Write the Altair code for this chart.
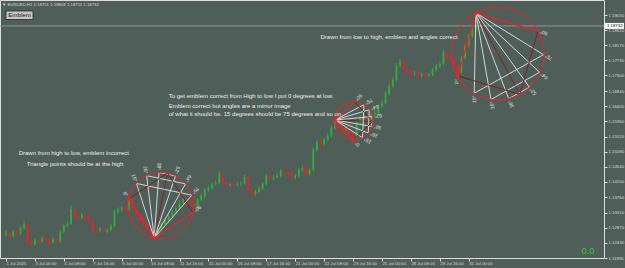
import math, json
import altair as alt
import pandas as pd

# ---------------- data ----------------
first_open = 1.1268
closes = [1.1272, 1.1263, 1.1275, 1.1269, 1.1286, 1.1298, 1.1246, 1.1240, 1.1251, 1.1246,
          1.1257, 1.1248, 1.1243, 1.1254, 1.1246, 1.1275, 1.1292, 1.1298, 1.1339, 1.1321,
          1.1315, 1.1324, 1.1312, 1.1307, 1.1280, 1.1278, 1.1283, 1.1275, 1.1280, 1.1292,
          1.1333, 1.1339, 1.1344, 1.1339, 1.1368, 1.1344, 1.1324, 1.1312, 1.1298, 1.1283,
          1.1272, 1.1263, 1.1286, 1.1298, 1.1309, 1.1321, 1.1333, 1.1344, 1.1359, 1.1371,
          1.1362, 1.1353, 1.1347, 1.1368, 1.1379, 1.1397, 1.1402, 1.1414, 1.1417, 1.1443,
          1.1420, 1.1411, 1.1414, 1.1411, 1.1414, 1.1416, 1.1434, 1.1397, 1.1385, 1.1391,
          1.1402, 1.1414, 1.1437, 1.1431, 1.1434, 1.1437, 1.1452, 1.1449, 1.1446, 1.1431,
          1.1437, 1.1455, 1.1461, 1.1443, 1.1455, 1.1513, 1.1536, 1.1530, 1.1542, 1.1554,
          1.1577, 1.1594, 1.1583, 1.1571, 1.1574, 1.1562, 1.1551, 1.1594, 1.1606, 1.1612,
          1.1606, 1.1617, 1.1620, 1.1641, 1.1649, 1.1676, 1.1699, 1.1716, 1.1757, 1.1769,
          1.1751, 1.1739, 1.1734, 1.1737, 1.1728, 1.1734, 1.1728, 1.1731, 1.1745, 1.1757,
          1.1763, 1.1795, 1.1780, 1.1774, 1.1757, 1.1739, 1.1780, 1.1815, 1.1844, 1.1861,
          1.18732]
highs = [1.1280, 1.1277, 1.1281, 1.1279, 1.1291, 1.1306, 1.1301, 1.1252, 1.1257, 1.1256,
         1.1262, 1.1261, 1.1253, 1.1259, 1.1258, 1.1280, 1.1298, 1.1305, 1.1352, 1.1344,
         1.1327, 1.1330, 1.1328, 1.1318, 1.1311, 1.1287, 1.1290, 1.1288, 1.1286, 1.1298,
         1.1340, 1.1346, 1.1350, 1.1349, 1.1371, 1.1370, 1.1348, 1.1329, 1.1316, 1.1302,
         1.1288, 1.1276, 1.1290, 1.1303, 1.1315, 1.1326, 1.1338, 1.1350, 1.1366, 1.1378,
         1.1375, 1.1367, 1.1358, 1.1373, 1.1386, 1.1403, 1.1409, 1.1420, 1.1425, 1.1452,
         1.1447, 1.1424, 1.1420, 1.1418, 1.1421, 1.1422, 1.1441, 1.1438, 1.1401, 1.1397,
         1.1407, 1.1419, 1.1443, 1.1442, 1.1440, 1.1445, 1.1458, 1.1456, 1.1454, 1.1450,
         1.1443, 1.1461, 1.1468, 1.1465, 1.1460, 1.1520, 1.1543, 1.1541, 1.1548, 1.1562,
         1.1584, 1.1600, 1.1598, 1.1587, 1.1580, 1.1578, 1.1566, 1.1599, 1.1612, 1.1619,
         1.1617, 1.1624, 1.1628, 1.1647, 1.1657, 1.1683, 1.1706, 1.1724, 1.1765, 1.1777,
         1.1773, 1.1755, 1.1744, 1.1743, 1.1741, 1.1739, 1.1738, 1.1737, 1.1751, 1.1763,
         1.1770, 1.1803, 1.1799, 1.1786, 1.1778, 1.1761, 1.1786, 1.1822, 1.1851, 1.1872,
         1.1911]
lows = [1.1262, 1.1258, 1.1260, 1.1264, 1.1266, 1.1282, 1.1240, 1.1233, 1.1236, 1.1240,
        1.1243, 1.1244, 1.1237, 1.1240, 1.1241, 1.1243, 1.1271, 1.1287, 1.1295, 1.1316,
        1.1309, 1.1311, 1.1307, 1.1300, 1.1274, 1.1271, 1.1273, 1.1270, 1.1271, 1.1277,
        1.1289, 1.1328, 1.1333, 1.1334, 1.1335, 1.1340, 1.1319, 1.1307, 1.1293, 1.1279,
        1.1266, 1.1257, 1.1260, 1.1282, 1.1294, 1.1305, 1.1316, 1.1328, 1.1340, 1.1354,
        1.1357, 1.1348, 1.1341, 1.1343, 1.1364, 1.1375, 1.1392, 1.1398, 1.1409, 1.1413,
        1.1415, 1.1406, 1.1406, 1.1405, 1.1407, 1.1409, 1.1412, 1.1392, 1.1379, 1.1380,
        1.1387, 1.1398, 1.1410, 1.1426, 1.1426, 1.1430, 1.1433, 1.1443, 1.1440, 1.1425,
        1.1427, 1.1432, 1.1450, 1.1438, 1.1439, 1.1451, 1.1508, 1.1524, 1.1525, 1.1537,
        1.1550, 1.1572, 1.1578, 1.1566, 1.1566, 1.1557, 1.1542, 1.1547, 1.1589, 1.1601,
        1.1600, 1.1601, 1.1612, 1.1616, 1.1636, 1.1645, 1.1671, 1.1694, 1.1712, 1.1752,
        1.1745, 1.1733, 1.1728, 1.1729, 1.1722, 1.1723, 1.1722, 1.1724, 1.1727, 1.1740,
        1.1752, 1.1759, 1.1774, 1.1768, 1.1751, 1.1728, 1.1735, 1.1776, 1.1810, 1.1839,
        1.1856]
hours_per_candle = 4
last_price = 1.18732

x_labels = ["1 Jul 2025", "3 Jul 00:00", "4 Jul 08:00", "7 Jul 16:00", "9 Jul 00:00",
            "10 Jul 08:00", "11 Jul 16:00", "15 Jul 00:00", "16 Jul 08:00", "17 Jul 16:00",
            "21 Jul 00:00", "22 Jul 08:00", "23 Jul 16:00", "25 Jul 00:00", "28 Jul 08:00",
            "29 Jul 16:00", "31 Jul 00:00"]
hours_per_label = 32
y_ticks = [1.19050, 1.18610, 1.18170, 1.17730, 1.17300, 1.16840, 1.16400, 1.15960,
           1.15520, 1.15080, 1.14640, 1.14200, 1.13760, 1.13310, 1.12870, 1.12430, 1.11990]

# emblems: (vertex candle, vertex uses 'low'/'high', zero-degree candle, its 'low'/'high', turn)
emblems = [(41, "low", 34, "high", 1), (91, "high", 96, "low", -1), (130, "high", 125, "low", -1)]
emblem_angles = [0, 15, 26.25, 37.5, 45, 52.5, 63.75, 75, 90]
emblem_labels = ["0°", "15°", "26°", "38°", "", "52°", "64°", "75°", "90°"]

notes_text = ["Drawn from high to low, emblem incorrect",
              "Triangle points should be at the high",
              "To get emblem correct from High to low I put 0 degrees at low.",
              "Emblem correct but angles are a mirror image",
              "of what it should be. 15 degrees should be 75 degrees and so on",
              "Drawn from low to high, emblem and angles correct"]
notes_hour = [14, 23, 180, 180, 180, 348]
notes_price = [1.1505, 1.1472, 1.1671, 1.1642, 1.1616, 1.1842]

header = "▼ EURUSD,H1  1.18751 1.18803 1.18711 1.18732"

# ---------------- layout / scales ----------------
W, H = 604, 258
PX_PER_HOUR = 0.919
X_MIN = -1 / PX_PER_HOUR
X_MAX = (W - 1) / PX_PER_HOUR
Y_MIN, Y_MAX = 1.11990, 1.19486

BG = "#4f5e58"
FG = "#dcdcdc"
UP, DOWN = "#36ab3e", "#e2262b"
RED, DARKRED, WHITE = "#e8242a", "#7e1f1f", "#e2e2e2"
FONT = "Liberation Sans"


def to_px(b, p):
    return ((b - X_MIN) / (X_MAX - X_MIN) * W, (Y_MAX - p) / (Y_MAX - Y_MIN) * H)


def to_data(x, y):
    return (X_MIN + x / W * (X_MAX - X_MIN), Y_MAX - y / H * (Y_MAX - Y_MIN))


x_axis = alt.Axis(values=[hours_per_label * i for i in range(len(x_labels))],
                  labelExpr=f"{json.dumps(x_labels)}[round(datum.value/{hours_per_label})]",
                  tickSize=3, tickColor=FG, labelColor=FG, labelFontSize=4.3, labelFont=FONT,
                  labelAlign="left", labelBaseline="top", labelPadding=0,
                  domain=False, grid=False, labelOverlap=False, labelFlush=False)
y_axis = alt.Axis(orient="right", values=y_ticks, format=".5f", tickSize=3, tickColor=FG,
                  labelColor=FG, labelFontSize=4.3, labelFont=FONT, labelPadding=1,
                  domain=False, grid=False, labelOverlap=False, labelFlush=False)
xs = alt.Scale(domain=[X_MIN, X_MAX], nice=False, zero=False)
ys = alt.Scale(domain=[Y_MIN, Y_MAX], nice=False, zero=False)


def X(f):
    return alt.X(f"{f}:Q", scale=xs, axis=x_axis, title=None)


def Y(f):
    return alt.Y(f"{f}:Q", scale=ys, axis=y_axis, title=None)


# ---------------- candles ----------------
opens = [first_open] + closes[:-1]
cdf = pd.DataFrame({
    "t": [hours_per_candle * i for i in range(len(closes))],
    "o": opens, "h": highs, "l": lows, "c": closes,
})
cdf["col"] = [UP if c >= o else DOWN for o, c in zip(opens, closes)]

wicks = alt.Chart(cdf).mark_rule(strokeWidth=1).encode(
    x=X("t"), y=Y("l"), y2="h", color=alt.Color("col:N", scale=None))
bodies = alt.Chart(cdf).mark_bar(size=1.8).encode(
    x=X("t"), y=Y("o"), y2="c", color=alt.Color("col:N", scale=None))

pline = alt.Chart(pd.DataFrame({"p": [last_price]})).mark_rule(
    color="#8a9994", strokeWidth=1).encode(y=Y("p"))

# ---------------- emblems ----------------
segs, circs, marks, labs = [], [], [], []
for vi, vk, ai, ak, turn in emblems:
    vp = lows[vi] if vk == "low" else highs[vi]
    ap = lows[ai] if ak == "low" else highs[ai]
    V = to_px(hours_per_candle * vi, vp)
    A = to_px(hours_per_candle * ai, ap)
    ux, uy = A[0] - V[0], A[1] - V[1]
    s = math.hypot(ux, uy)
    wx, wy = -uy * turn, ux * turn
    B = (V[0] + wx, V[1] + wy)
    C = (A[0] + wx, A[1] + wy)
    M = ((V[0] + C[0]) / 2, (V[1] + C[1]) / 2)
    D = s * math.sqrt(2)

    def ray(a, extra=0.0):
        ar = math.radians(a)
        dx = (math.cos(ar) * ux + math.sin(ar) * wx) / s
        dy = (math.cos(ar) * uy + math.sin(ar) * wy) / s
        r = D * math.cos(math.radians(45 - a)) + extra
        return (V[0] + r * dx, V[1] + r * dy), math.degrees(math.atan2(dy, dx))

    def add(p, q, col, w):
        a = to_data(*p)
        b = to_data(*q)
        segs.append({"x": a[0], "y": a[1], "x2": b[0], "y2": b[1], "col": col, "w": w})

    ends = {a: ray(a)[0] for a in emblem_angles}
    for a in emblem_angles:
        if a in (0, 90):
            continue
        add(V, ends[a], DARKRED if a == 45 else WHITE, 0.9)
    for a in emblem_angles:
        if 0 < a < 45 and (90 - a) in ends:
            add(ends[a], ends[90 - a], WHITE, 0.9)
    add(A, C, DARKRED, 1.0)
    add(C, B, DARKRED, 1.0)
    add(V, A, RED, 1.3)
    add(V, B, RED, 1.3)

    cm = to_data(*M)
    circs.append({"x": cm[0], "y": cm[1], "sz": D * D})
    for P in (V, A, ((V[0] + A[0]) / 2, (V[1] + A[1]) / 2)):
        d = to_data(*P)
        marks.append({"x": d[0], "y": d[1]})
    for a, txt in zip(emblem_angles, emblem_labels):
        if not txt:
            continue
        P, th = ray(a, 6)
        d = to_data(*P)
        labs.append({"x": d[0], "y": d[1], "txt": txt, "ang": (th + 180) % 360})

seg_layer = alt.Chart(pd.DataFrame(segs)).mark_rule().encode(
    x=X("x"), y=Y("y"), x2="x2", y2="y2",
    color=alt.Color("col:N", scale=None), strokeWidth=alt.StrokeWidth("w:Q", scale=None))
circ_layer = alt.Chart(pd.DataFrame(circs)).mark_point(
    shape="circle", filled=False, color=RED, strokeWidth=1, opacity=1).encode(
    x=X("x"), y=Y("y"), size=alt.Size("sz:Q", scale=None))
mark_layer = alt.Chart(pd.DataFrame(marks)).mark_square(
    color=RED, size=10, opacity=1).encode(x=X("x"), y=Y("y"))
lab_layer = alt.Chart(pd.DataFrame(labs)).mark_text(
    color=WHITE, fontSize=5, font=FONT, align="center", baseline="middle").encode(
    x=X("x"), y=Y("y"), text="txt:N", angle=alt.Angle("ang:Q", scale=None))

# ---------------- texts ----------------
ndf = pd.DataFrame({"t": notes_hour, "p": notes_price, "txt": notes_text})
notes = alt.Chart(ndf).mark_text(color="#eeeeee", fontSize=6, font=FONT,
                                 align="left", baseline="middle").encode(
    x=X("t"), y=Y("p"), text="txt:N")

px_per_price = H / (Y_MAX - Y_MIN)
bdf = pd.DataFrame({"p": [last_price], "top": [last_price + 3 / px_per_price],
                    "bot": [last_price - 3 / px_per_price], "txt": [f"{last_price:.5f}"]})
pbox = alt.Chart(bdf).mark_rect(fill="#f4f4f4").encode(
    x=alt.value(W), x2=alt.value(W + 20), y=Y("top"), y2="bot")
ptext = alt.Chart(bdf).mark_text(color="#111111", fontSize=4.3, font=FONT,
                                 align="left", baseline="middle").encode(
    x=alt.value(W + 3), y=Y("p"), text="txt:N")

ui = pd.DataFrame({"txt": [header]})
head = alt.Chart(ui).mark_text(color=FG, fontSize=4.3, font=FONT,
                               align="left", baseline="middle").encode(
    x=alt.value(2), y=alt.value(5), text="txt:N")
btn = alt.Chart(pd.DataFrame({"txt": ["Emblem"]})).mark_rect(
    fill="#c6c6c6", stroke="#2a2a2a", strokeWidth=0.8).encode(
    x=alt.value(6), x2=alt.value(33), y=alt.value(11), y2=alt.value(19.5))
btn_t = alt.Chart(pd.DataFrame({"txt": ["Emblem"]})).mark_text(
    color="#1a1a1a", fontSize=6.2, font=FONT, align="center", baseline="middle").encode(
    x=alt.value(19.5), y=alt.value(15.4), text="txt:N")
zero = alt.Chart(pd.DataFrame({"txt": ["0.0"]})).mark_text(
    color="#2fd02f", fontSize=9, font=FONT, align="center", baseline="middle").encode(
    x=alt.value(588), y=alt.value(251), text="txt:N")

chart = alt.layer(
    wicks, bodies, pline, seg_layer, circ_layer, mark_layer, lab_layer,
    notes, pbox, ptext, head, btn, btn_t, zero
).properties(
    width=W, height=H, background=BG,
    padding={"left": 0, "top": 0, "right": 21, "bottom": 10},
    autosize=alt.AutoSizeParams(type="none"),
).configure_view(stroke="#c8c8c8", strokeWidth=1, fill=BG).configure(font=FONT)

chart.save("out.html", embed_options={"renderer": "svg", "actions": False})
